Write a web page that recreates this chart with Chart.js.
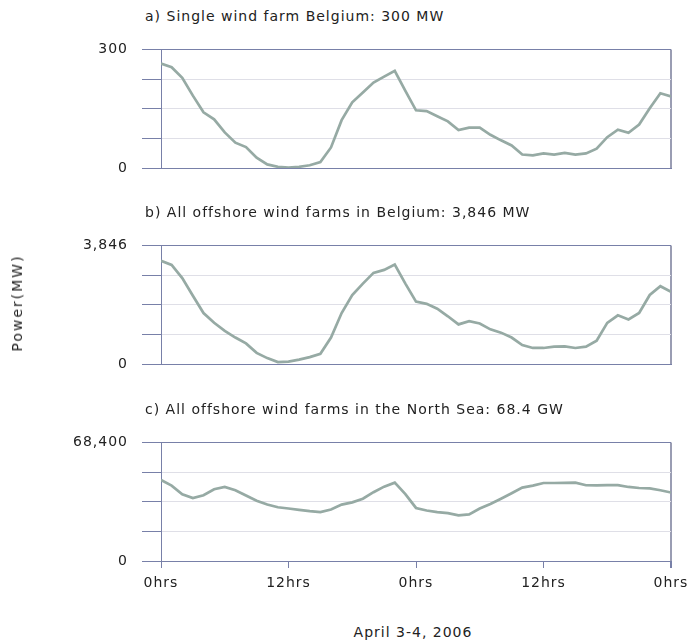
<!DOCTYPE html>
<html>
<head>
<meta charset="utf-8">
<script src="https://cdn.jsdelivr.net/npm/chart.js@4"></script>
<style>
body { margin: 0; background: #fff; font-family: 'DejaVu Sans', sans-serif; color: #222; }
#page { position: relative; width: 694px; height: 644px; overflow: hidden; }
.title { position: absolute; left: 145px; font-size: 14px; letter-spacing: 1px; white-space: nowrap; line-height: 18px; }
canvas { position: absolute; left: 0; }
#ylabel { position: absolute; left: 17px; top: 303px; font-size: 14px; letter-spacing: 2px; white-space: nowrap;
  transform: translate(-50%, -50%) rotate(-90deg); }
#xlabel { position: absolute; left: 413px; top: 632px; font-size: 14px; letter-spacing: 1px; white-space: nowrap; transform: translate(-50%, -50%); }
</style>
</head>
<body>
<div id="page">
  <canvas id="chartA" width="694" height="180" style="top:27px"></canvas>
  <canvas id="chartB" width="694" height="180" style="top:223px"></canvas>
  <canvas id="chartC" width="694" height="180" style="top:420px"></canvas>
  <div class="title" style="top:7px">a) Single wind farm Belgium: 300 MW</div>
  <div class="title" style="top:203px">b) All offshore wind farms in Belgium: 3,846 MW</div>
  <div class="title" style="top:400px">c) All offshore wind farms in the North Sea: 68.4 GW</div>
  <div id="ylabel">Power(MW)</div>
  <div id="xlabel">April 3-4, 2006</div>
</div>
<script>
// hours since 0hrs April 3
var hours = [0, 1, 2, 3, 4, 5, 6, 7, 8, 9, 10, 11, 12, 13, 14, 15, 16, 17, 18, 19, 20, 21, 22, 23, 24,
  25, 26, 27, 28, 29, 30, 31, 32, 33, 34, 35, 36, 37, 38, 39, 40, 41, 42, 43, 44, 45, 46, 47, 48]

// MW
var singleFarm = [264, 255, 228, 183, 141, 123, 90, 64, 53, 26, 9, 3, 1, 3, 7, 15, 52, 121, 166, 191, 216, 231, 246, 195, 146,
  144, 131, 118, 96, 102, 102, 84, 70, 57, 34, 32, 37, 34, 38, 34, 37, 49, 78, 97, 89, 110, 151, 189, 181]
var belgiumOffshore = [3350, 3211, 2788, 2215, 1653, 1335, 1072, 858, 668, 362, 191, 64, 76, 140, 222, 331, 858, 1653, 2238, 2607, 2956, 3051, 3223, 2607, 2024,
  1951, 1792, 1547, 1284, 1389, 1315, 1125, 1017, 858, 615, 520, 520, 563, 573, 520, 563, 753, 1335, 1580, 1443, 1653, 2238, 2523, 2343]
var northSea = [46700, 43450, 38530, 36260, 37960, 41370, 42740, 40800, 37800, 34800, 32540, 31000, 30260, 29470, 28730, 28160, 29700, 32540, 33830, 35920, 39670, 42900, 45170, 38530, 30600,
  29130, 28160, 27590, 26290, 26860, 30260, 32880, 35920, 39100, 42330, 43450, 44980, 44980, 45100, 45200, 43700, 43650, 43800, 43800, 42700, 42100, 41900, 40800, 39500]

var xTickHours = [0, 12, 24, 36, 48]
var xTickLabels = ['0hrs', '12hrs', '0hrs', '12hrs', '0hrs']

var frame = '#7880a8'
var rightEdge = '#9a9db3'
var gridLight = '#dfdfe7'
var lineColor = '#96aaa4'
var none = 'rgba(0,0,0,0)'

Chart.defaults.font.family = "'DejaVu Sans', sans-serif"
Chart.defaults.font.size = 14
Chart.defaults.color = '#222'

// the labels in the picture are a bit spaced out
var spacing = {
    id: 'spacing',
    beforeDraw: function (chart) { chart.ctx.letterSpacing = '1px' }
}

// all three panels share one layout; only the bottom one shows the hour axis
function makePanel(id, values, max, showX) {
    var points = hours.map(function (h, i) { return {x: h, y: values[i]} })
    var yTicks = [0, max / 4, max / 2, max * 3 / 4, max]
    var ctx = document.getElementById(id).getContext('2d')
    return new Chart(ctx, {
        type: 'line',
        data: {
            datasets: [{
                data: points,
                borderColor: lineColor,
                borderWidth: 2.7,
                pointRadius: 0,
                tension: 0
            }]
        },
        plugins: [spacing],
        options: {
            responsive: false,
            animation: false,
            devicePixelRatio: 1,
            layout: {
                autoPadding: false,
                padding: {left: 0, right: 23, top: 15, bottom: 0}
            },
            plugins: {legend: {display: false}, tooltip: {enabled: false}},
            scales: {
                x: {
                    type: 'linear',
                    min: 0,
                    max: 48,
                    afterBuildTicks: function (scale) {
                        scale.ticks = xTickHours.map(function (v) { return {value: v} })
                    },
                    afterFit: function (scale) { scale.height = 39 },
                    border: {color: frame, width: 1},
                    grid: {
                        tickLength: 7,
                        tickColor: showX ? frame : none,
                        lineWidth: function (c) { return c.tick && c.tick.value === 48 ? 2 : 1 },
                        color: function (c) { return c.tick && c.tick.value === 48 ? rightEdge : none }
                    },
                    ticks: {
                        color: showX ? '#222' : none,
                        padding: 7,
                        maxRotation: 0,
                        autoSkip: false,
                        callback: function (v) { return xTickLabels[xTickHours.indexOf(v)] }
                    }
                },
                y: {
                    min: 0,
                    max: max,
                    afterBuildTicks: function (scale) {
                        scale.ticks = yTicks.map(function (v) { return {value: v} })
                    },
                    afterFit: function (scale) { scale.width = 161 },
                    border: {color: frame, width: 1},
                    grid: {
                        tickLength: 19,
                        tickColor: frame,
                        color: function (c) {
                            var v = c.tick ? c.tick.value : 0
                            return (v === 0 || v === max) ? frame : gridLight
                        }
                    },
                    ticks: {
                        padding: 14,
                        callback: function (v) {
                            return (v === 0 || v === max) ? v.toLocaleString('en-US') : ''
                        }
                    }
                }
            }
        }
    })
}

var chartA = makePanel('chartA', singleFarm, 300, false)
var chartB = makePanel('chartB', belgiumOffshore, 3846, false)
var chartC = makePanel('chartC', northSea, 68400, true)
</script>
</body>
</html>
